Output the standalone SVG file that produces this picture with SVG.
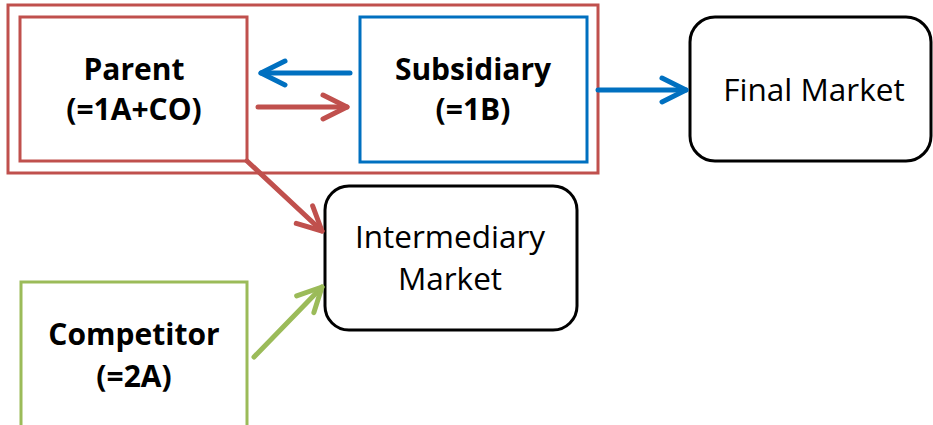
<svg xmlns="http://www.w3.org/2000/svg" width="933" height="425" viewBox="0 0 933 425">
<style>
.box{fill:#fff;stroke-width:3}
.red{stroke:#C0504D}
.blue{stroke:#0070C0}
.green{stroke:#9BBB59}
.blk{stroke:#000}
.b{font-family:"Open Sans","Liberation Sans",Arial,sans-serif;font-weight:bold;font-size:30px;fill:#000;text-anchor:middle}
.r{font-family:"Open Sans","Liberation Sans",Arial,sans-serif;font-size:31.5px;fill:#000;text-anchor:middle}
.c{fill:none;stroke-width:5;stroke-linecap:round}
</style>
<defs>
<marker id="ah-red" viewBox="-30 -16 34 32" refX="0" refY="0" markerWidth="34" markerHeight="32" markerUnits="userSpaceOnUse" orient="auto"><path d="M-24 -12 L0 0 L-24 12" fill="none" stroke="#C0504D" stroke-width="5" stroke-linecap="round" stroke-linejoin="round"/></marker>
<marker id="ah-blue" viewBox="-30 -16 34 32" refX="0" refY="0" markerWidth="34" markerHeight="32" markerUnits="userSpaceOnUse" orient="auto"><path d="M-24 -12 L0 0 L-24 12" fill="none" stroke="#0070C0" stroke-width="5" stroke-linecap="round" stroke-linejoin="round"/></marker>
<marker id="ah-green" viewBox="-30 -16 34 32" refX="0" refY="0" markerWidth="34" markerHeight="32" markerUnits="userSpaceOnUse" orient="auto"><path d="M-24 -12 L0 0 L-24 12" fill="none" stroke="#9BBB59" stroke-width="5" stroke-linecap="round" stroke-linejoin="round"/></marker>
</defs>
<rect width="933" height="425" fill="#fff"/>
<g id="group-1A">
<rect x="8" y="5" width="590" height="168" fill="none" stroke="#C0504D" stroke-width="3"/>
</g>
<g id="parent">
<rect class="box red" x="20" y="17" width="227" height="144"/>
<text class="b" x="134" y="80">Parent</text>
<text class="b" x="134" y="120">(=1A+CO)</text>
</g>
<g id="subsidiary">
<rect class="box blue" x="360" y="17" width="227" height="145"/>
<text class="b" x="473" y="80">Subsidiary</text>
<text class="b" x="473" y="120">(=1B)</text>
</g>
<g id="final-market">
<rect class="box blk" x="690" y="17" width="241" height="144" rx="25"/>
<text class="r" x="814" y="101">Final Market</text>
</g>
<g id="intermediary-market">
<rect class="box blk" x="325" y="186" width="252" height="144" rx="24"/>
<text class="r" x="450" y="248">Intermediary</text>
<text class="r" x="450" y="290">Market</text>
</g>
<g id="competitor">
<rect class="box green" x="21" y="282" width="226" height="150"/>
<text class="b" x="134" y="345">Competitor</text>
<text class="b" x="134" y="387">(=2A)</text>
</g>
<g id="connectors">
<line class="c blue" x1="350" y1="73" x2="261" y2="73" marker-end="url(#ah-blue)"/>
<line class="c red" x1="258" y1="107" x2="347" y2="107" marker-end="url(#ah-red)"/>
<line class="c blue" x1="598" y1="90" x2="686" y2="90" marker-end="url(#ah-blue)"/>
<line class="c red" x1="247" y1="161" x2="322" y2="231" marker-end="url(#ah-red)"/>
<line class="c green" x1="254" y1="357" x2="322" y2="287" marker-end="url(#ah-green)"/>
</g>
</svg>
